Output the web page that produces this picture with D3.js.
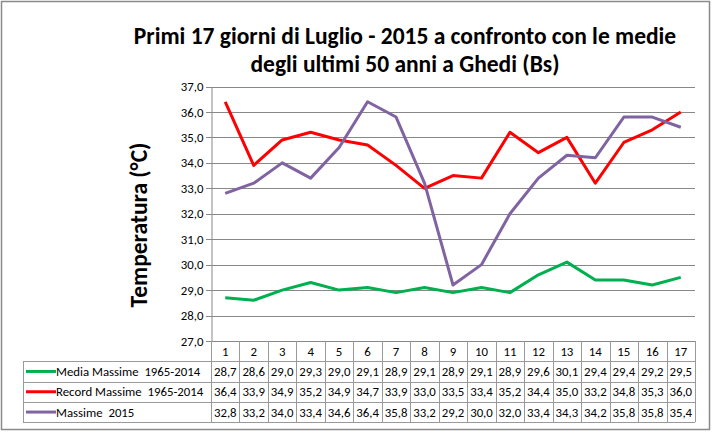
<!DOCTYPE html>
<html lang="en">
<head>
<meta charset="UTF-8">
<title>Luglio 2015 Ghedi</title>
<style>
  body { margin: 0; background: #fff; }
  text { font-family: Calibri, Carlito, Lato, sans-serif; }
</style>
</head>
<body>
<script src="https://d3js.org/d3.v7.min.js"></script>
<script>
const days = ["1","2","3","4","5","6","7","8","9","10","11","12","13","14","15","16","17"];
const media = [28.7,28.6,29.0,29.3,29.0,29.1,28.9,29.1,28.9,29.1,28.9,29.6,30.1,29.4,29.4,29.2,29.5];
const record = [36.4,33.9,34.9,35.2,34.9,34.7,33.9,33.0,33.5,33.4,35.2,34.4,35.0,33.2,34.8,35.3,36.0];
const massime2015 = [32.8,33.2,34.0,33.4,34.6,36.4,35.8,33.2,29.2,30.0,32.0,33.4,34.3,34.2,35.8,35.8,35.4];
const seriesNames = ["Media Massime  1965-2014", "Record Massime  1965-2014", "Massime  2015"];
const yTicks = [27,28,29,30,31,32,33,34,35,36,37];

const series = [
  { name: seriesNames[0], values: media, color: "#00b050" },
  { name: seriesNames[1], values: record, color: "#ff0000" },
  { name: seriesNames[2], values: massime2015, color: "#8064a2" }
];

const width = 712, height = 433;
const plotLeft = 211, plotRight = 695, plotTop = 86.5, plotBottom = 341;
const rowH = 20.3;
const fs = 12.8;
const fmt = v => v.toFixed(1).replace(".", ",");

const svg = d3.select("body").append("svg")
  .attr("width", width)
  .attr("height", height);

// outer frame
svg.append("rect")
  .attr("x", 1.5).attr("y", 1.5)
  .attr("width", 708).attr("height", 428)
  .attr("fill", "#fff")
  .attr("stroke", "#8a8a8a")
  .attr("stroke-width", 1.5);

const x = d3.scaleBand().domain(days).range([plotLeft, plotRight]).padding(0);
const y = d3.scaleLinear().domain([27, 37]).range([plotBottom, plotTop]);

// gridlines
svg.append("g")
  .selectAll("line")
  .data(yTicks)
  .join("line")
  .attr("x1", plotLeft - 5).attr("x2", plotRight)
  .attr("y1", d => Math.round(y(d)) + 0.5)
  .attr("y2", d => Math.round(y(d)) + 0.5)
  .attr("stroke", "#888")
  .attr("stroke-width", 1);

// y axis
const yAxis = d3.axisLeft(y).tickValues(yTicks).tickFormat(fmt).tickSize(0).tickPadding(8);
const ga = svg.append("g").attr("transform", "translate(" + (plotLeft + 0.5) + ",0)").call(yAxis);
ga.select(".domain").attr("stroke", "#888");
ga.selectAll("text").attr("font-size", fs).attr("fill", "#000")
  .style("font-family", "Calibri, Carlito, Lato, sans-serif");

// y title
svg.append("text")
  .attr("transform", "translate(147,225) rotate(-90)")
  .attr("text-anchor", "middle")
  .attr("font-size", 23.5)
  .attr("font-weight", "bold")
  .text("Temperatura (°C)");

// title
const title = svg.append("text")
  .attr("text-anchor", "middle")
  .attr("font-size", 23.5)
  .attr("font-weight", "bold");
title.append("tspan").attr("x", 405).attr("y", 44).text("Primi 17 giorni di Luglio - 2015 a confronto con le medie");
title.append("tspan").attr("x", 405).attr("y", 72).text("degli ultimi 50 anni a Ghedi (Bs)");

// lines
const line = d3.line()
  .x((d, i) => x(days[i]) + x.bandwidth() / 2)
  .y(d => y(d));

svg.append("g")
  .selectAll("path")
  .data(series)
  .join("path")
  .attr("d", d => line(d.values))
  .attr("fill", "none")
  .attr("stroke", d => d.color)
  .attr("stroke-width", 3)
  .attr("stroke-linejoin", "round");

// data table
const tbl = svg.append("g");
const legLeft = 23;
const tableBottom = plotBottom + rowH * 4;
const gridColor = "#9a9a9a";

// horizontal lines
for (let r = 1; r <= 4; r++) {
  tbl.append("line")
    .attr("x1", legLeft).attr("x2", plotRight)
    .attr("y1", Math.round(plotBottom + rowH * r) + 0.5)
    .attr("y2", Math.round(plotBottom + rowH * r) + 0.5)
    .attr("stroke", gridColor);
}
// vertical lines
tbl.selectAll("line.v")
  .data(days.concat(["end"]))
  .join("line")
  .attr("class", "v")
  .attr("x1", (d, i) => Math.round(plotLeft + i * x.bandwidth()) + 0.5)
  .attr("x2", (d, i) => Math.round(plotLeft + i * x.bandwidth()) + 0.5)
  .attr("y1", plotBottom)
  .attr("y2", tableBottom)
  .attr("stroke", gridColor);
tbl.append("line")
  .attr("x1", legLeft + 0.5).attr("x2", legLeft + 0.5)
  .attr("y1", plotBottom + rowH).attr("y2", tableBottom)
  .attr("stroke", gridColor);

// header numbers
tbl.selectAll("text.day")
  .data(days)
  .join("text")
  .attr("class", "day")
  .attr("x", d => x(d) + x.bandwidth() / 2)
  .attr("y", plotBottom + rowH / 2 + 5)
  .attr("text-anchor", "middle")
  .attr("font-size", fs)
  .text(d => d);

// series rows
series.forEach((s, r) => {
  const cy = plotBottom + rowH * (r + 1) + rowH / 2;
  tbl.append("line")
    .attr("x1", legLeft + 3).attr("x2", legLeft + 33)
    .attr("y1", cy).attr("y2", cy)
    .attr("stroke", s.color)
    .attr("stroke-width", 3);
  tbl.append("text")
    .attr("x", legLeft + 33)
    .attr("y", cy + 4.5)
    .attr("font-size", fs)
    .style("white-space", "pre")
    .text(s.name);
  tbl.selectAll("text.v" + r)
    .data(s.values)
    .join("text")
    .attr("class", "v" + r)
    .attr("x", (d, i) => x(days[i]) + x.bandwidth() / 2)
    .attr("y", cy + 4.5)
    .attr("text-anchor", "middle")
    .attr("font-size", fs)
    .text(fmt);
});
</script>
</body>
</html>
